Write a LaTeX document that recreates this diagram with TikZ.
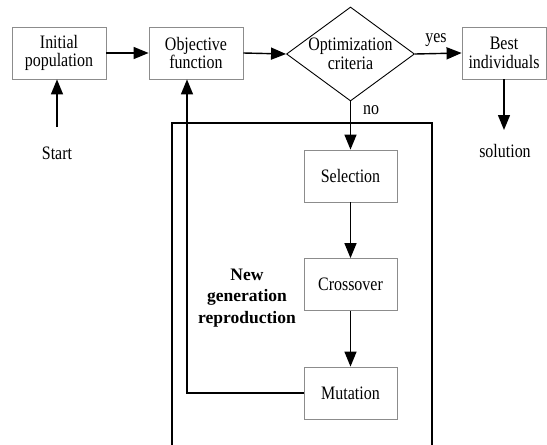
\documentclass[tikz,border=0pt]{standalone}
\usepackage{fontspec}
\setmainfont{Liberation Serif}[FakeStretch=0.84]
\newfontfamily\plainserif{Liberation Serif}
\usetikzlibrary{arrows.meta,shapes.geometric}
\begin{document}
\begin{tikzpicture}[x=1pt,y=-1pt,
  every node/.style={font=\fontsize{19}{18.5}\selectfont},
  box/.style={draw=black!45, line width=0.8pt, minimum width=94pt, minimum height=52pt, inner sep=0pt, align=center},
  arr/.style={line width=1.4pt, -{Triangle[length=15pt,width=12pt]}},
  ln/.style={line width=1.4pt}]
\useasboundingbox (0,0) rectangle (547,445);
\clip (0,0) rectangle (547,445);
\node[box] (init) at (59,53) {Initial\\population};
\node[box] (obj) at (196,53) {Objective\\function};
\node[diamond, draw=black, line width=0.9pt, minimum width=128pt, minimum height=94pt, inner sep=0pt] (dia) at (350.5,54) {};
\node[align=center] (diatext) at (dia.center) {Optimization\\criteria};
\node[box, minimum width=84pt] (best) at (504,53) {Best\\individuals};
\node[box, minimum width=93pt] (sel) at (350.5,176) {Selection};
\node[box, minimum width=93pt] (cro) at (350.5,284.5) {Crossover};
\node[box, minimum width=93pt] (mut) at (350.5,393) {Mutation};
\node (start) at (57,153) {Start};
\node (sol) at (505,151) {solution};
\node (yes) at (436,40) {yes};
\node (no) at (371,110) {no};
\node[align=center, font=\plainserif\fontsize{17.5}{21.5}\selectfont\bfseries] (newgen) at (247,298) {New\\generation\\reproduction};
\coordinate (s0) at (57,127);
\coordinate (s1) at (504,130);
\draw[ln] (172,446) |- (432,123) -- (432,446);
\draw[arr] (init.east) -- (obj.west);
\draw[arr] (obj.east) -- (dia.west);
\draw[arr] (dia.east) -- (best.west);
\draw[arr] (dia.south) -- (sel.north);
\draw[arr] (sel.south) -- (cro.north);
\draw[arr] (cro.south) -- (mut.north);
\draw[arr] (s0) -- (s0 |- init.south);
\draw[arr] (best.south) -- (s1);
\draw[arr] (mut.west) -| ([xshift=-9pt]obj.south);
\end{tikzpicture}
\end{document}
